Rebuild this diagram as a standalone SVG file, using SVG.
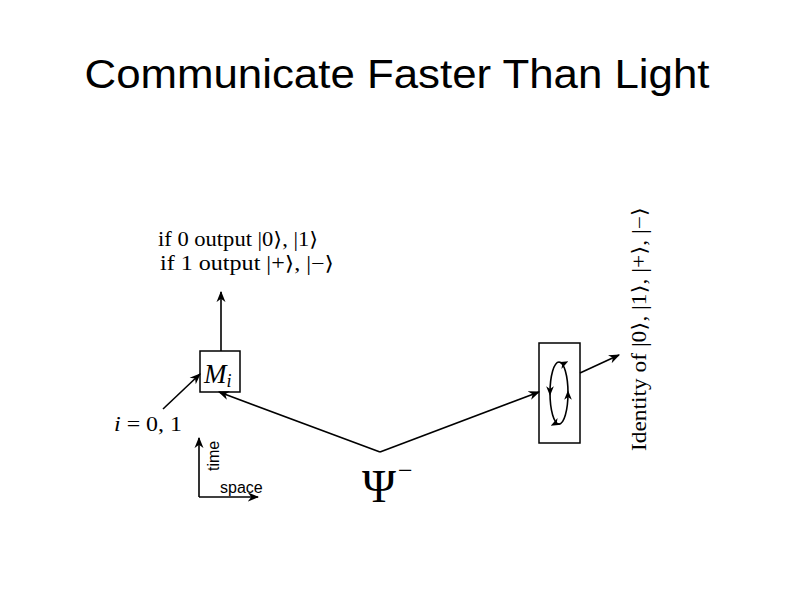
<svg xmlns="http://www.w3.org/2000/svg" width="794" height="595" viewBox="0 0 794 595">
<style>
.m{font-family:"Liberation Serif","DejaVu Serif",serif;fill:#000}
.s{font-family:"Liberation Sans",Arial,sans-serif;fill:#000}
.l{stroke:#000;stroke-width:1.6;fill:none}
</style>
<defs><marker id="a" viewBox="0 0 10 10" refX="9" refY="5" markerWidth="7" markerHeight="7" orient="auto"><path d="M0,1 L10,5 L0,9 L3,5 Z" fill="#000"/></marker>
<marker id="b" viewBox="0 0 10 10" refX="5" refY="5" markerWidth="6" markerHeight="6" orient="auto"><path d="M0,1 L10,5 L0,9 L3,5 Z" fill="#000"/></marker></defs>
<rect width="794" height="595" fill="#fff"/>
<text class="s" x="397" y="88" font-size="40" text-anchor="middle" textLength="625" lengthAdjust="spacingAndGlyphs">Communicate Faster Than Light</text>
<g id="labels">
<text class="m" x="158" y="246" font-size="20" textLength="160" lengthAdjust="spacingAndGlyphs">if 0 output |0⟩, |1⟩</text>
<text class="m" x="160" y="270" font-size="20" textLength="174" lengthAdjust="spacingAndGlyphs">if 1 output |+⟩, |−⟩</text>
<text class="m" x="114" y="431" font-size="22" textLength="68" lengthAdjust="spacingAndGlyphs"><tspan font-style="italic">i</tspan> = 0, 1</text>
<text class="m" transform="translate(646,451) rotate(-90)" font-size="20" textLength="244" lengthAdjust="spacingAndGlyphs">Identity of |0⟩, |1⟩, |+⟩, |−⟩</text>
</g>
<g id="Mi"><rect x="200" y="351" width="40" height="41" fill="#fff" stroke="#000" stroke-width="1.5"/>
<text class="m" x="204" y="383" font-size="27" font-style="italic">M<tspan font-size="18" dy="4">i</tspan></text></g>
<g id="box"><rect x="539" y="343" width="41" height="100" fill="#fff" stroke="#000" stroke-width="1.5"/>
<ellipse cx="559" cy="393" rx="9" ry="31" class="l" stroke-width="1.3"/>
<path d="M550,390 l0,1" class="l" marker-end="url(#b)"/>
<path d="M568,396 l0,-1" class="l" marker-end="url(#b)"/>
<path d="M563,364 l1,-0.5" class="l" marker-end="url(#b)"/>
<path d="M556,423 l-1,0.5" class="l" marker-end="url(#b)"/>
</g>
<g id="psi"><text class="m" x="362" y="502" font-size="46">Ψ</text><text class="m" x="398" y="479" font-size="26">−</text></g>
<g id="axes"><path d="M199,497 V438" class="l" marker-end="url(#a)"/><path d="M199,497 H258" class="l" marker-end="url(#a)"/>
<text class="s" transform="translate(219,471) rotate(-90)" font-size="16">time</text>
<text class="s" x="220" y="493" font-size="16">space</text></g>
<g id="connectors">
<path d="M221,351 V292" class="l" marker-end="url(#a)"/>
<path d="M163,409 L200,374" class="l" marker-end="url(#a)"/>
<path d="M380,452 L219,392" class="l" marker-end="url(#a)"/>
<path d="M380,452 L539,392" class="l" marker-end="url(#a)"/>
<path d="M580,373 L619,355" class="l" marker-end="url(#a)"/>
</g>
</svg>
